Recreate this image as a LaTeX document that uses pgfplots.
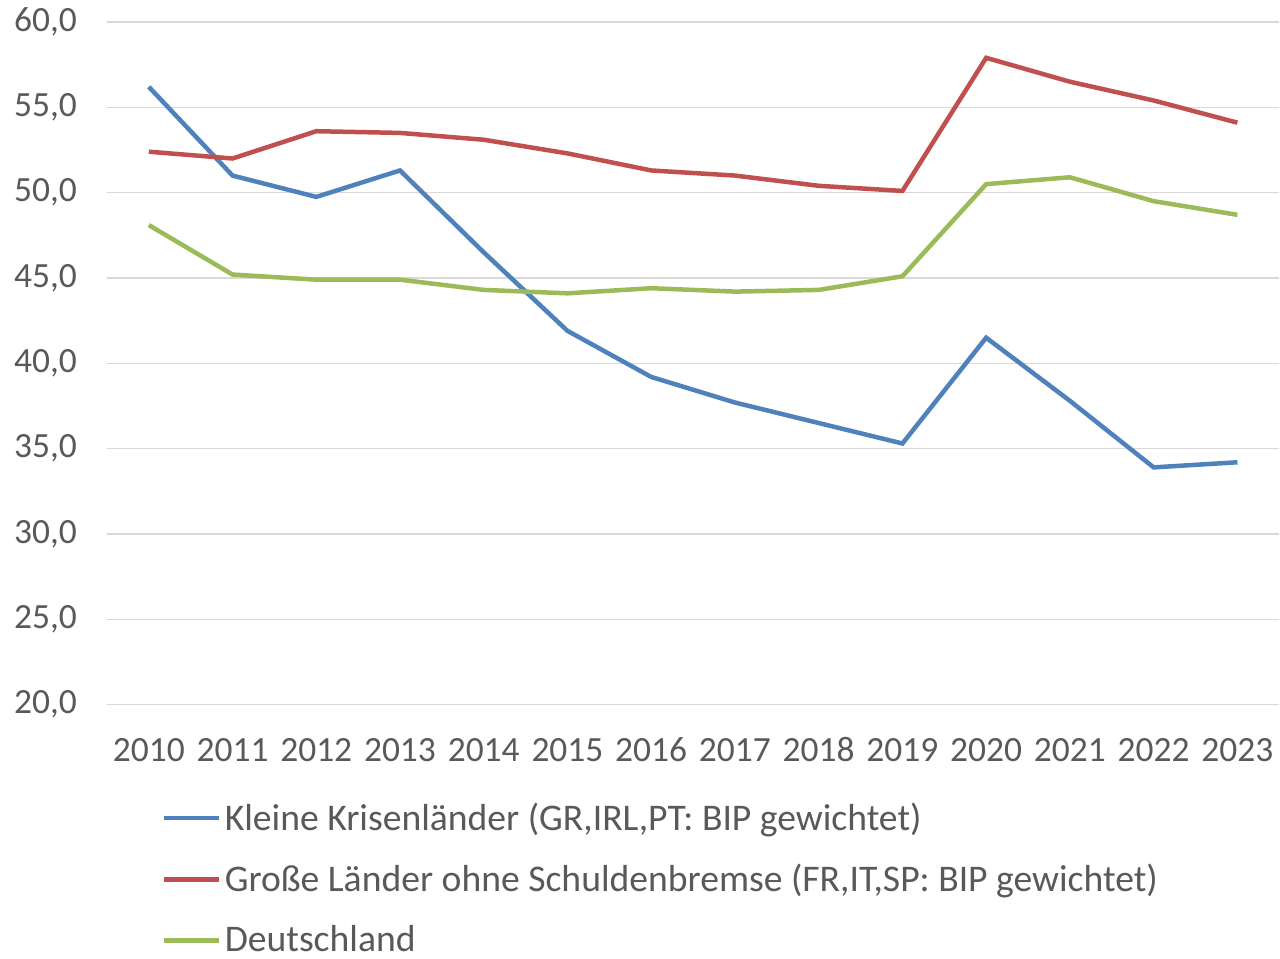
\documentclass[border=0pt]{standalone}
\usepackage{pgfplots}
\pgfplotsset{compat=1.18}
\usepackage{fontspec}
\setmainfont{Carlito}
\definecolor{txt}{HTML}{595959}
\definecolor{gridc}{HTML}{D9D9D9}
\definecolor{cblue}{HTML}{4F81BD}
\definecolor{cred}{HTML}{C0504D}
\definecolor{cgreen}{HTML}{9BBB59}
\begin{document}
\begin{tikzpicture}
\begin{axis}[name=ax,
  scale only axis, width=586.5bp, height=341.5bp,
  xmin=2009.5, xmax=2023.5, ymin=20, ymax=60,
  xtick={2010,...,2023}, ytick={20,25,...,60},
  xticklabels={2010,2011,2012,2013,2014,2015,2016,2017,2018,2019,2020,2021,2022,2023},
  axis line style={draw=none}, tick style={draw=none},
  ymajorgrids, grid style={gridc, line width=0.75bp},
  font=\fontsize{17.8}{20}\selectfont, tick label style={txt},
  /pgf/number format/assume math mode=true,
  yticklabel style={/pgf/number format/fixed, /pgf/number format/fixed zerofill, /pgf/number format/precision=1, /pgf/number format/use comma, xshift=-11.5bp},
  xticklabel style={yshift=-18bp, text height=1.45ex, text depth=0pt},
  clip=false,
  legend style={at={(rel axis cs:0,0)}, anchor=north west, xshift=27bp, yshift=-47bp,
    draw=none, fill=none, font=\fontsize{18.9}{21}\selectfont\color{txt},
    row sep=11.5bp, inner sep=0pt},
  legend cell align=left,
  legend image code/.code={\draw[#1] (0bp,0bp) -- (27.5bp,0bp);},
]
\addplot[cblue, line width=2.25bp] coordinates {(2010,56.2)(2011,51.0)(2012,49.75)(2013,51.3)(2014,46.5)(2015,41.9)(2016,39.2)(2017,37.7)(2018,36.5)(2019,35.3)(2020,41.5)(2021,37.8)(2022,33.9)(2023,34.2)};
\addlegendentry{Kleine Krisenländer (GR,IRL,PT: BIP gewichtet)}
\addplot[cred, line width=2.25bp] coordinates {(2010,52.4)(2011,52.0)(2012,53.6)(2013,53.5)(2014,53.1)(2015,52.3)(2016,51.3)(2017,51.0)(2018,50.4)(2019,50.1)(2020,57.9)(2021,56.5)(2022,55.4)(2023,54.1)};
\addlegendentry{Große Länder ohne Schuldenbremse (FR,IT,SP: BIP gewichtet)}
\addplot[cgreen, line width=2.25bp] coordinates {(2010,48.1)(2011,45.2)(2012,44.9)(2013,44.9)(2014,44.3)(2015,44.1)(2016,44.4)(2017,44.2)(2018,44.3)(2019,45.1)(2020,50.5)(2021,50.9)(2022,49.5)(2023,48.7)};
\addlegendentry{Deutschland}
\end{axis}
\path (ax.south west) ++(-53.5bp,-124.5bp) rectangle ++(640bp,477bp);
\end{tikzpicture}
\end{document}
